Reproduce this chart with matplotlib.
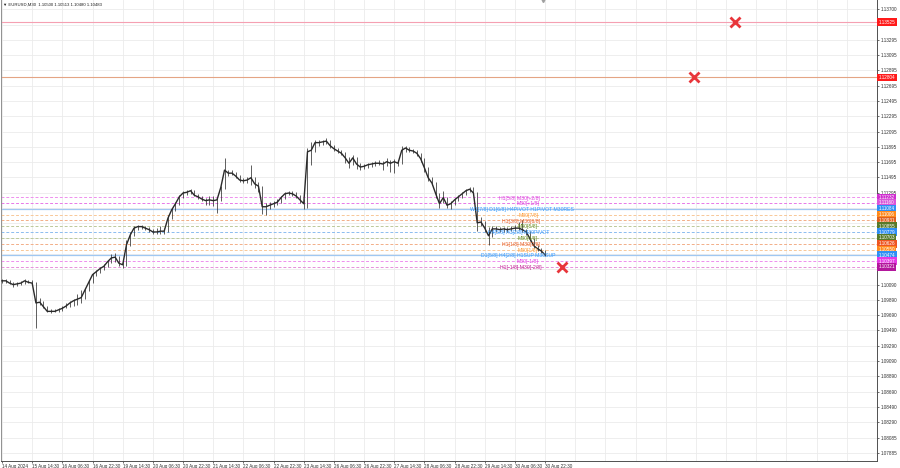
import matplotlib
matplotlib.use("Agg")
import matplotlib.pyplot as plt
import numpy as np

# ---------------- data ----------------
title = "EURUSD,M30  1.10500 1.10513 1.10480 1.10483"

xtick_labels = ["14 Aug 2024", "15 Aug 14:30", "16 Aug 06:30", "16 Aug 22:30",
                "19 Aug 14:30", "20 Aug 06:30", "20 Aug 22:30", "21 Aug 14:30",
                "22 Aug 06:30", "22 Aug 22:30", "23 Aug 14:30", "26 Aug 06:30",
                "26 Aug 22:30", "27 Aug 14:30", "28 Aug 06:30", "28 Aug 22:30",
                "29 Aug 14:30", "30 Aug 06:30", "30 Aug 22:30"]

# sampled M30 prices (one sample every 4 bars, starting 14 Aug 22:30)
close = [1.1014, 1.1014, 1.1011, 1.1009, 1.1010, 1.1011, 1.1014, 1.1012, 1.1011, 1.0985,
         1.0986, 1.0980, 1.0974, 1.0974, 1.0974, 1.0976, 1.0978, 1.0981, 1.0985, 1.0988,
         1.0990, 1.0992, 1.1002, 1.1012, 1.1022, 1.1026, 1.1030, 1.1033, 1.1039, 1.1044,
         1.1045, 1.1037, 1.1035, 1.1061, 1.1074, 1.1083, 1.1085, 1.1085, 1.1083, 1.1081,
         1.1078, 1.1078, 1.1079, 1.1079, 1.1096, 1.1107, 1.1115, 1.1124, 1.1129, 1.1130,
         1.1132, 1.1126, 1.1124, 1.1121, 1.1119, 1.1120, 1.1119, 1.1120, 1.1136, 1.1159,
         1.1155, 1.1155, 1.1151, 1.1146, 1.1145, 1.1146, 1.1149, 1.1141, 1.1138, 1.1111,
         1.1111, 1.1113, 1.1115, 1.1117, 1.1123, 1.1128, 1.1129, 1.1128, 1.1125, 1.1120,
         1.1115, 1.1183, 1.1185, 1.1195, 1.1195, 1.1196, 1.1197, 1.1191, 1.1187, 1.1184,
         1.1181, 1.1175, 1.1168, 1.1175, 1.1167, 1.1163, 1.1164, 1.1166, 1.1167, 1.1168,
         1.1168, 1.1167, 1.1170, 1.1168, 1.1170, 1.1168, 1.1185, 1.1188, 1.1185, 1.1184,
         1.1181, 1.1174, 1.1162, 1.1149, 1.1142, 1.1128, 1.1115, 1.1123, 1.1113, 1.1115,
         1.1120, 1.1124, 1.1128, 1.1132, 1.1134, 1.1129, 1.1090, 1.1091, 1.1083, 1.1073,
         1.1082, 1.1082, 1.1081, 1.1082, 1.1081, 1.1082, 1.1083, 1.1083, 1.1081, 1.1078,
         1.1069, 1.1060, 1.1056, 1.1053, 1.1048]

high = [1.1016, 1.1016, 1.1015, 1.1012, 1.1012, 1.1014, 1.1016, 1.1015, 1.1015, 1.1012,
        1.0992, 1.0988, 1.0981, 1.0977, 1.0977, 1.0978, 1.0981, 1.0985, 1.0988, 1.0990,
        1.0997, 1.1002, 1.1005, 1.1015, 1.1024, 1.1028, 1.1032, 1.1036, 1.1041, 1.1049,
        1.1050, 1.1047, 1.1040, 1.1067, 1.1078, 1.1086, 1.1087, 1.1087, 1.1086, 1.1085,
        1.1082, 1.1083, 1.1086, 1.1083, 1.1100, 1.1109, 1.1117, 1.1126, 1.1132, 1.1133,
        1.1134, 1.1133, 1.1128, 1.1125, 1.1123, 1.1125, 1.1125, 1.1124, 1.1138, 1.1175,
        1.1159, 1.1159, 1.1157, 1.1153, 1.1149, 1.1150, 1.1166, 1.1150, 1.1143, 1.1138,
        1.1116, 1.1117, 1.1119, 1.1121, 1.1125, 1.1130, 1.1132, 1.1132, 1.1130, 1.1126,
        1.1121, 1.1188, 1.1196, 1.1198, 1.1198, 1.1198, 1.1201, 1.1198, 1.1192, 1.1188,
        1.1185, 1.1183, 1.1176, 1.1179, 1.1176, 1.1168, 1.1167, 1.1168, 1.1170, 1.1171,
        1.1172, 1.1171, 1.1175, 1.1172, 1.1174, 1.1172, 1.1191, 1.1191, 1.1189, 1.1187,
        1.1185, 1.1181, 1.1175, 1.1163, 1.1150, 1.1143, 1.1129, 1.1132, 1.1124, 1.1119,
        1.1123, 1.1126, 1.1130, 1.1134, 1.1137, 1.1137, 1.1130, 1.1098, 1.1092, 1.1085,
        1.1086, 1.1086, 1.1085, 1.1085, 1.1085, 1.1086, 1.1087, 1.1091, 1.1094, 1.1082,
        1.1079, 1.1070, 1.1061, 1.1057, 1.1054]

low = [1.1011, 1.1011, 1.1010, 1.1006, 1.1007, 1.1009, 1.1010, 1.1011, 1.1010, 1.0952,
       1.0982, 1.0978, 1.0973, 1.0972, 1.0973, 1.0973, 1.0974, 1.0978, 1.0980, 1.0981,
       1.0982, 1.0985, 1.0990, 1.1001, 1.1011, 1.1020, 1.1024, 1.1028, 1.1032, 1.1037,
       1.1039, 1.1033, 1.1031, 1.1033, 1.1060, 1.1073, 1.1081, 1.1082, 1.1081, 1.1078,
       1.1075, 1.1075, 1.1075, 1.1075, 1.1078, 1.1095, 1.1105, 1.1113, 1.1123, 1.1126,
       1.1128, 1.1125, 1.1121, 1.1119, 1.1113, 1.1113, 1.1112, 1.1103, 1.1119, 1.1134,
       1.1151, 1.1153, 1.1149, 1.1143, 1.1142, 1.1142, 1.1140, 1.1136, 1.1130, 1.1102,
       1.1100, 1.1108, 1.1111, 1.1113, 1.1116, 1.1121, 1.1126, 1.1125, 1.1123, 1.1116,
       1.1108, 1.1109, 1.1166, 1.1183, 1.1191, 1.1192, 1.1193, 1.1188, 1.1184, 1.1181,
       1.1179, 1.1168, 1.1162, 1.1166, 1.1160, 1.1159, 1.1160, 1.1162, 1.1163, 1.1164,
       1.1166, 1.1159, 1.1164, 1.1157, 1.1155, 1.1164, 1.1167, 1.1183, 1.1183, 1.1181,
       1.1178, 1.1170, 1.1157, 1.1145, 1.1140, 1.1123, 1.1109, 1.1116, 1.1109, 1.1108,
       1.1113, 1.1119, 1.1123, 1.1126, 1.1130, 1.1128, 1.1079, 1.1086, 1.1078, 1.1061,
       1.1071, 1.1078, 1.1078, 1.1078, 1.1078, 1.1079, 1.1079, 1.1081, 1.1078, 1.1074,
       1.1066, 1.1057, 1.1053, 1.1050, 1.1047]

# Murrey-style levels
level_prices = [1.11232, 1.11160, 1.11084, 1.11006, 1.10931, 1.10855, 1.10779,
                1.10703, 1.10626, 1.10550, 1.10474, 1.10397, 1.10321]
level_texts = ["H1[5/8] M30[+2/8]", "M30[+1/8]",
               "W1[7/8] D1[6/8] H4PIVOT H1PIVOT M30RES", "M30[7/8]",
               "H1[3/8] M30[6/8]", "M30[5/8]", "H4[5/8] H1[2/8] M30PIVOT",
               "M30[3/8]", "H1[1/8] M30[2/8]", "M30[1/8]",
               "D1[5/8] H4[2/8] H1SUP M30SUP", "M30[-1/8]", "H1[-1/8] M30[-2/8]"]

key_prices = [1.13525, 1.12804]

signal_bars = [777, 734, 594]
signal_prices = [1.13525, 1.12804, 1.10321]

ytick_values = [1.13700, 1.13295, 1.13095, 1.12895, 1.12695, 1.12495, 1.12295,
                1.12095, 1.11895, 1.11695, 1.11495, 1.11295, 1.10090, 1.09890,
                1.09690, 1.09490, 1.09290, 1.09090, 1.08890, 1.08690, 1.08490,
                1.08290, 1.08085, 1.07885]
hidden_grid_values = [1.13495, 1.11095, 1.10895, 1.10695, 1.10495, 1.10290]

# ---------------- style ----------------
BAR_STEP = 4
LABEL_EVERY = 32
level_tag_colors = ['#cf2fcf', '#d955d9', '#2f8ff5', '#ff8a1c', '#e0601e', '#587a2a',
                    '#2f8ff5', '#587a2a', '#ee5520', '#ff8a1c', '#2f8ff5', '#e43ae4',
                    '#b3179c']
level_line_colors = ['#ee8fee', '#e878e8', '#a0c8f2', '#f8c898', '#f2ae88', '#bcc99a',
                     '#8cbcef', '#bcc99a', '#f2ae88', '#f8c898', '#a0c8f2', '#ee8fee',
                     '#e690da']
level_line_solid = [False, False, True, False, False, False, False, False, False,
                    False, True, False, False]
level_text_colors = ['#dd44dd', '#dd44dd', '#3399ff', '#ff9a33', '#e8602a', '#6b8e23',
                     '#3399ff', '#6b8e23', '#e8602a', '#ff9a33', '#3399ff', '#e040e0',
                     '#c02090']
level_text_x = [549, 558, 551, 559, 551, 558, 548, 558, 550, 558, 548, 557, 550]
key_line_colors = ['#f5a0b2', '#e4a484']

plt.rcParams['font.family'] = ['Liberation Sans', 'DejaVu Sans']

fig = plt.figure(figsize=(9, 4.68), dpi=100)
ax = fig.add_axes([0.0011, 7 / 468, 876 / 900, 461 / 468])
ax.set_xlim(-1.06, 928)
ax.set_ylim(1.07780, 1.13818)

# grid
xgrid = np.arange(0, 929, LABEL_EVERY)
for gx in xgrid:
    ax.axvline(gx, color='#ebebeb', lw=0.6, zorder=0)
for gy in ytick_values + hidden_grid_values:
    ax.axhline(gy, color='#ebebeb', lw=0.6, zorder=0)

# level lines
for p, c, solid in zip(level_prices, level_line_colors, level_line_solid):
    if solid:
        ax.axhline(p, color=c, lw=0.9, zorder=1)
    else:
        ax.axhline(p, color=c, lw=0.7, ls=(0, (3, 2)), zorder=1)
for p, c in zip(key_prices, key_line_colors):
    ax.axhline(p, color=c, lw=0.8, zorder=1)

# price series
bars = np.arange(len(close)) * BAR_STEP
ax.vlines(bars, low, high, color='#333333', lw=0.55, zorder=3)
ax.plot(bars, close, color='#2a2a2a', lw=1.0, zorder=3)

# level annotations
for p, t, c, xb in zip(level_prices, level_texts, level_text_colors, level_text_x):
    ax.text(xb, p - 0.00008, t, color=c, fontsize=3.7, ha='center', va='center',
            zorder=5)

# signal crosses
ax.plot(signal_bars, signal_prices, ls='none', marker='x', ms=7, mew=2.0,
        color='#e8353a', zorder=6)

# chart shift marker
ax.plot([574], [1.13818], marker='v', ms=3, color='#a0a0a0', clip_on=False, zorder=6)

# axes / ticks
ax.yaxis.tick_right()
ax.set_yticks(ytick_values)
ax.set_yticklabels([f"{v:.5f}" for v in ytick_values])
ax.tick_params(axis='y', labelsize=3.3, length=1.5, pad=1.2, colors='#303030',
               width=0.5)
ax.set_xticks(xgrid[:len(xtick_labels)])
ax.set_xticklabels(xtick_labels)
ax.tick_params(axis='x', labelsize=3.3, length=1.5, pad=0.6, colors='#303030',
               width=0.5)
for lbl in ax.get_xticklabels():
    lbl.set_ha('left')

ax.spines['top'].set_visible(False)
ax.spines['left'].set_color('#909090')
ax.spines['right'].set_color('#505050')
ax.spines['bottom'].set_color('#505050')
for s in ax.spines.values():
    s.set_linewidth(0.7)

# price tags
all_tag_prices = key_prices + level_prices
all_tag_colors = ['#ff1a1a', '#ff1a1a'] + level_tag_colors
for p, c in zip(all_tag_prices, all_tag_colors):
    ax.text(1.0018, p, f"{p:.5f}", transform=ax.get_yaxis_transform(),
            ha='left', va='center', fontsize=3.3, color='white',
            bbox=dict(boxstyle='square,pad=0.3', fc=c, ec='none'),
            clip_on=False, zorder=20)

fig.text(3 / 900, 1 - 5 / 468, "\u25BC " + title, fontsize=3.1, color='#202020',
         ha='left', va='center')

fig.savefig("out.png", dpi=100)
